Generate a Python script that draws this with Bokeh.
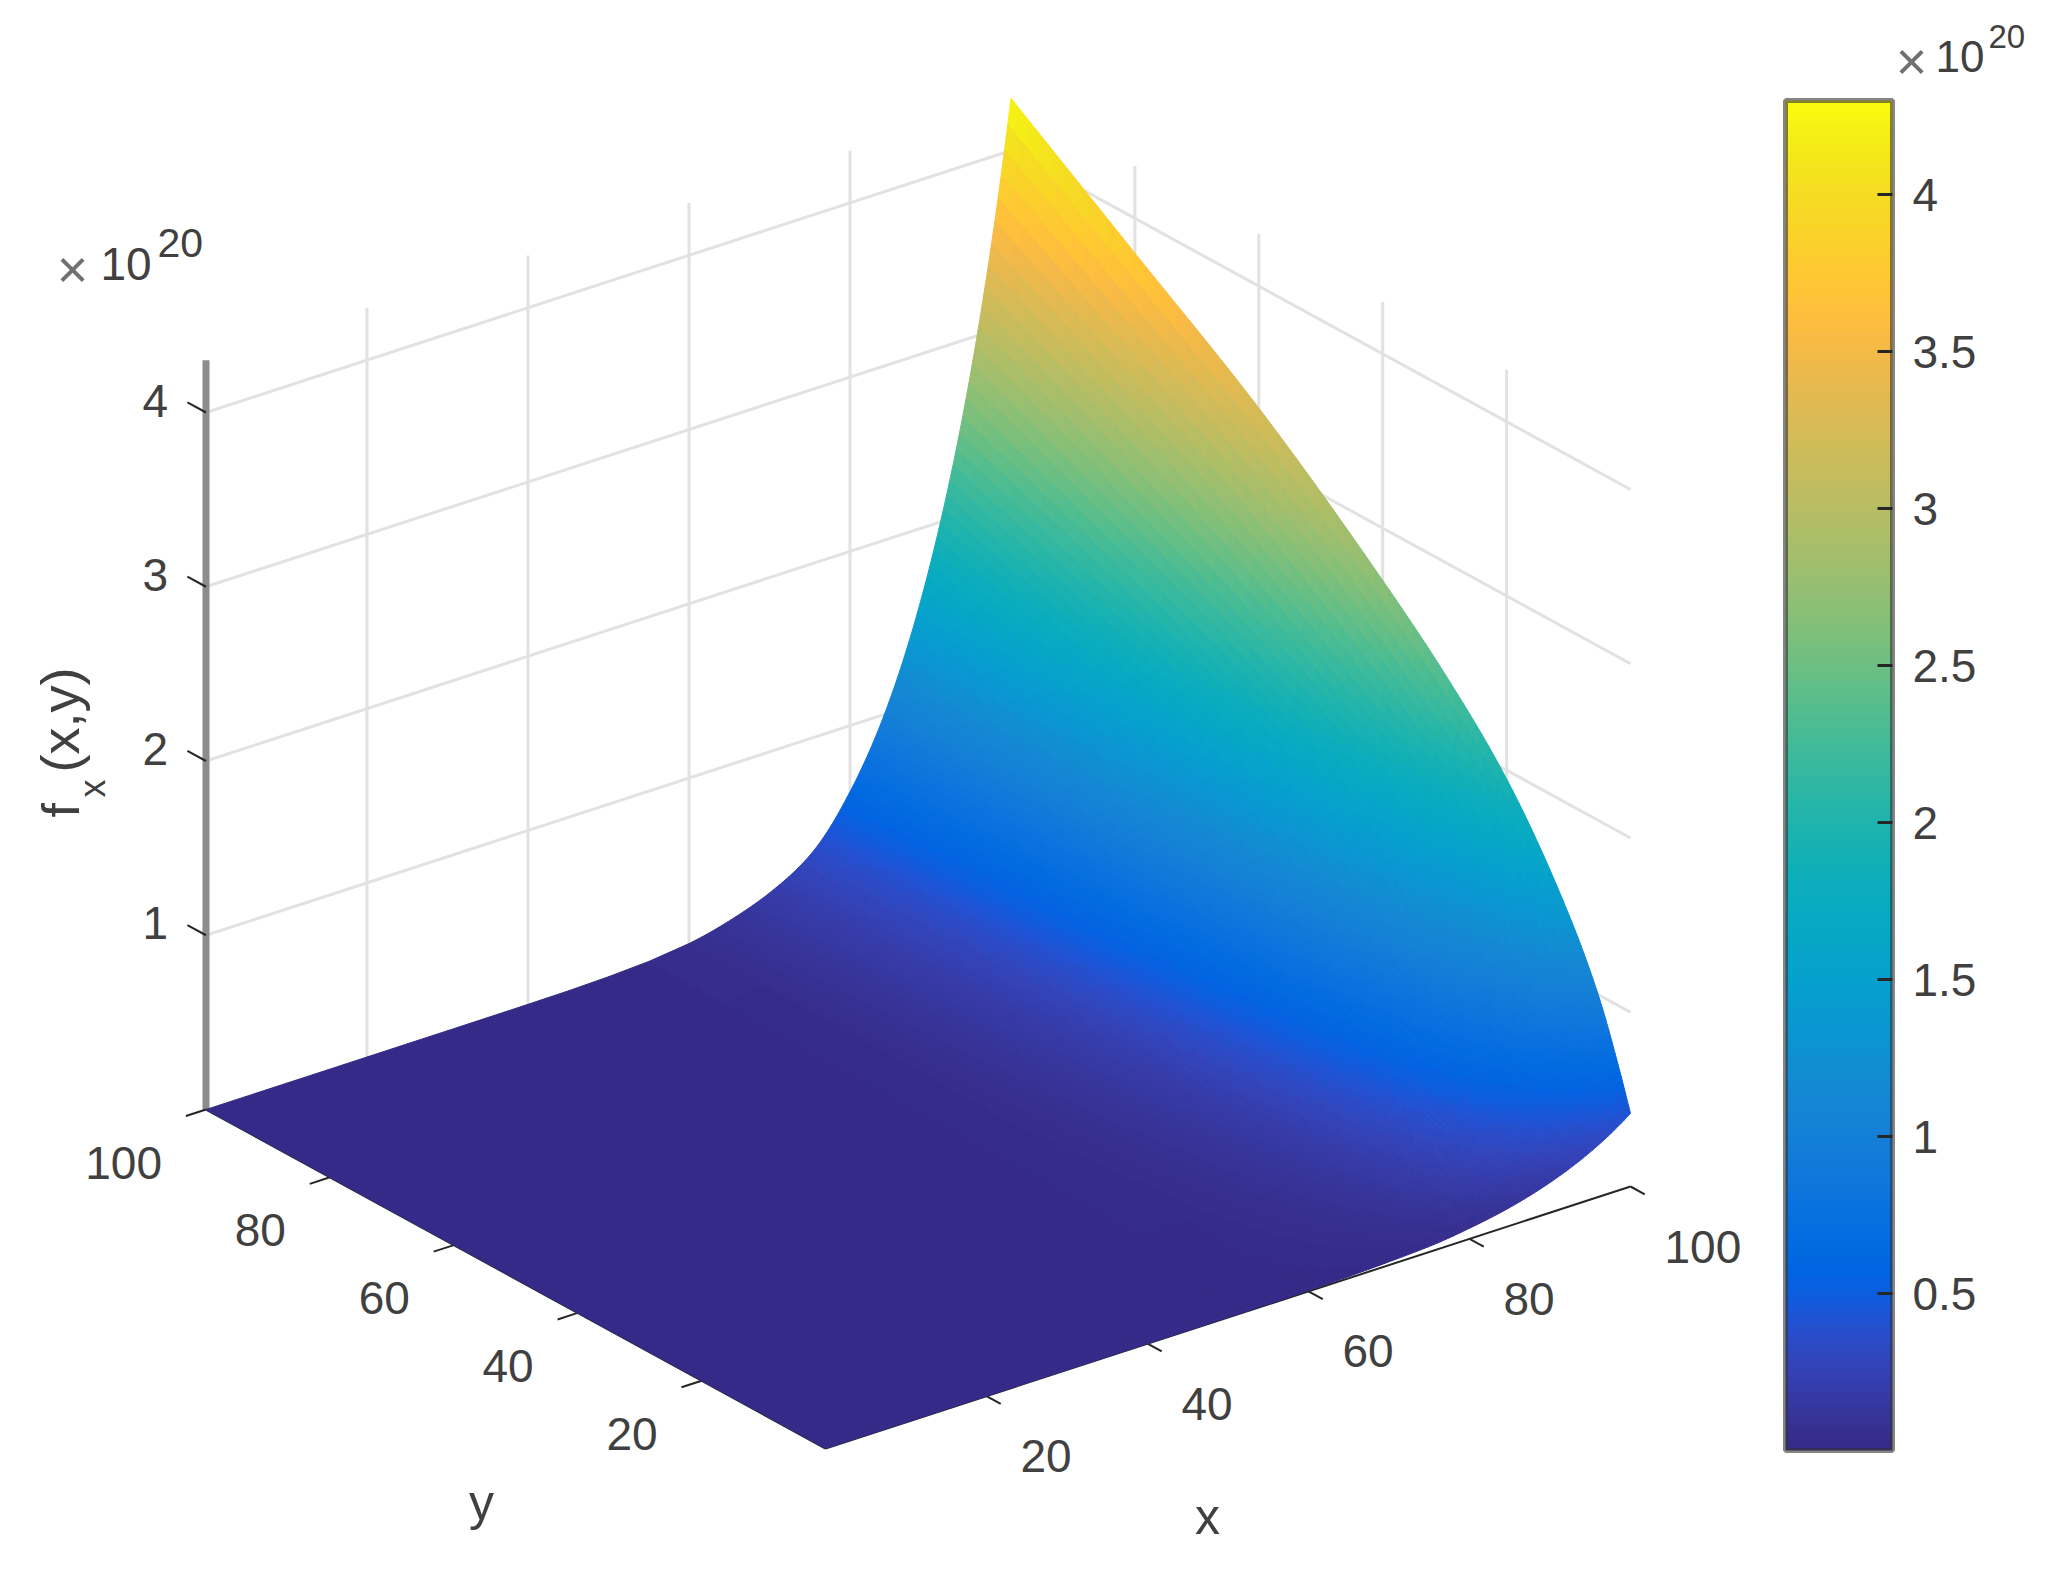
import numpy as np
from bokeh.embed import file_html
from bokeh.resources import INLINE
from bokeh.plotting import figure
from bokeh.models import Range1d, ColumnDataSource, LinearColorMapper, ColorBar, FixedTicker
from bokeh.core.properties import value

# ---- data (values in units of 1e20) ----
x_knots = [0, 40, 50, 60, 65, 70, 75, 80, 85, 90, 95, 100]
y_knots = [0, 2, 5, 10, 20, 30, 40, 60, 80, 100]
z_y0   = [0, 0.000, 0.001, 0.005, 0.010, 0.019, 0.032, 0.061, 0.105, 0.173, 0.273, 0.42]
z_y2   = [0, 0.000, 0.001, 0.007, 0.016, 0.029, 0.051, 0.095, 0.167, 0.275, 0.432, 0.66]
z_y5   = [0, 0.000, 0.002, 0.012, 0.024, 0.043, 0.075, 0.141, 0.247, 0.407, 0.639, 0.98]
z_y10  = [0, 0.001, 0.003, 0.016, 0.033, 0.061, 0.105, 0.198, 0.345, 0.568, 0.893, 1.37]
z_y20  = [0, 0.001, 0.005, 0.023, 0.048, 0.086, 0.149, 0.281, 0.489, 0.806, 1.27, 1.95]
z_y30  = [0, 0.001, 0.005, 0.027, 0.058, 0.104, 0.181, 0.340, 0.593, 0.977, 1.54, 2.36]
z_y40  = [0, 0.001, 0.006, 0.031, 0.066, 0.119, 0.207, 0.389, 0.678, 1.115, 1.76, 2.70]
z_y60  = [0, 0.002, 0.008, 0.038, 0.081, 0.146, 0.253, 0.476, 0.828, 1.365, 2.15, 3.30]
z_y80  = [0, 0.002, 0.009, 0.044, 0.093, 0.168, 0.292, 0.548, 0.955, 1.575, 2.48, 3.80]
z_y100 = [0, 0.002, 0.010, 0.050, 0.105, 0.190, 0.330, 0.620, 1.08, 1.78, 2.80, 4.30]
z_rows = [z_y0, z_y2, z_y5, z_y10, z_y20, z_y30, z_y40, z_y60, z_y80, z_y100]

x_ticks = [20, 40, 60, 80, 100]
y_ticks = [20, 40, 60, 80, 100]
z_ticks = [1, 2, 3, 4]
cbar_ticks = [0.5, 1, 1.5, 2, 2.5, 3, 3.5, 4]
z_top = 4.3

parula = [
 (0.2081,0.1663,0.5292),(0.2116,0.1898,0.5777),(0.2123,0.2138,0.6270),(0.2081,0.2386,0.6771),
 (0.1959,0.2645,0.7279),(0.1707,0.2919,0.7792),(0.1253,0.3242,0.8303),(0.0591,0.3598,0.8683),
 (0.0117,0.3875,0.8820),(0.0060,0.4086,0.8828),(0.0165,0.4266,0.8786),(0.0329,0.4430,0.8720),
 (0.0498,0.4586,0.8641),(0.0629,0.4737,0.8554),(0.0723,0.4887,0.8467),(0.0779,0.5040,0.8384),
 (0.0793,0.5200,0.8312),(0.0749,0.5375,0.8263),(0.0641,0.5570,0.8240),(0.0488,0.5772,0.8228),
 (0.0343,0.5966,0.8199),(0.0265,0.6137,0.8135),(0.0239,0.6287,0.8038),(0.0231,0.6418,0.7913),
 (0.0228,0.6535,0.7768),(0.0267,0.6642,0.7607),(0.0384,0.6743,0.7436),(0.0590,0.6838,0.7254),
 (0.0843,0.6928,0.7062),(0.1133,0.7015,0.6859),(0.1453,0.7098,0.6646),(0.1801,0.7177,0.6424),
 (0.2178,0.7250,0.6193),(0.2586,0.7317,0.5954),(0.3022,0.7376,0.5712),(0.3482,0.7424,0.5473),
 (0.3953,0.7459,0.5244),(0.4420,0.7481,0.5033),(0.4871,0.7491,0.4840),(0.5300,0.7491,0.4661),
 (0.5709,0.7485,0.4494),(0.6099,0.7473,0.4337),(0.6473,0.7456,0.4188),(0.6834,0.7435,0.4044),
 (0.7184,0.7411,0.3905),(0.7525,0.7384,0.3768),(0.7858,0.7356,0.3633),(0.8185,0.7327,0.3498),
 (0.8507,0.7299,0.3360),(0.8824,0.7274,0.3217),(0.9139,0.7258,0.3063),(0.9450,0.7261,0.2886),
 (0.9739,0.7314,0.2666),(0.9938,0.7455,0.2403),(0.9990,0.7653,0.2164),(0.9955,0.7861,0.1967),
 (0.9880,0.8066,0.1794),(0.9789,0.8271,0.1633),(0.9697,0.8481,0.1475),(0.9626,0.8705,0.1309),
 (0.9589,0.8949,0.1132),(0.9598,0.9218,0.0948),(0.9661,0.9514,0.0755),(0.9763,0.9831,0.0538)]
_rgb = np.array(parula)
_t = np.linspace(0, 63, 256)
palette = ["#%02x%02x%02x" % tuple(int(round(np.interp(t, np.arange(64), _rgb[:, k]) * 255)) for k in range(3))
           for t in _t]

# ---- the camera: orthographic projection to page pixels ----
ORIGIN = (825.0, 1448.0)
EX = (8.05, -2.62)
EY = (-6.195, -3.39)
EZ = -174.25


def project(x, y, z):
    x, y, z = np.asarray(x, float), np.asarray(y, float), np.asarray(z, float)
    return ORIGIN[0] + EX[0] * x + EY[0] * y, ORIGIN[1] + EX[1] * x + EY[1] * y + EZ * z


def pchip(xk, yk, xq):
    """Monotone cubic used only to shade the surface smoothly between read values."""
    xk, yk = np.asarray(xk, float), np.asarray(yk, float)
    h = np.diff(xk)
    d = np.diff(yk) / h
    m = np.zeros_like(yk)
    for i in range(1, len(xk) - 1):
        if d[i - 1] * d[i] > 0:
            w1, w2 = 2 * h[i] + h[i - 1], h[i] + 2 * h[i - 1]
            m[i] = (w1 + w2) / (w1 / d[i - 1] + w2 / d[i])
    m[0], m[-1] = d[0], d[-1]
    i = np.clip(np.searchsorted(xk, xq, side="right") - 1, 0, len(h) - 1)
    t = (xq - xk[i]) / h[i]
    return ((2*t**3 - 3*t**2 + 1) * yk[i] + (t**3 - 2*t**2 + t) * h[i] * m[i]
            + (-2*t**3 + 3*t**2) * yk[i + 1] + (t**3 - t**2) * h[i] * m[i + 1])


xq = np.concatenate([np.arange(0, 60, 5.0), np.arange(60, 100.01, 0.4)])
yq = np.concatenate([np.arange(0, 10, 0.5), np.arange(10, 100.01, 1.0)])
EPS = 1e-3
by_x = np.array([np.exp(pchip(x_knots, np.log(np.array(row) + EPS), xq)) - EPS for row in z_rows])
Z = np.array([pchip(y_knots, by_x[:, j], yq) for j in range(len(xq))]).T
XX, YY = np.meshgrid(xq, yq)
PX, PY = project(XX, YY, Z)

qx, qy, qz = [], [], []
for i in range(len(yq) - 2, -1, -1):
    for j in range(len(xq) - 2, -1, -1):
        qx.append([PX[i, j], PX[i, j + 1], PX[i + 1, j + 1], PX[i + 1, j]])
        qy.append([PY[i, j], PY[i, j + 1], PY[i + 1, j + 1], PY[i + 1, j]])
        qz.append(float(Z[i:i + 2, j:j + 2].mean()))

mapper = LinearColorMapper(palette=palette, low=0, high=z_top)

p = figure(width=2040, height=1558, x_range=Range1d(0, 2040), y_range=Range1d(1558, 0),
           x_axis_type=None, y_axis_type=None, toolbar_location=None, output_backend="svg",
           min_border=0, outline_line_color=None, background_fill_color="white")
p.grid.visible = False

GRID = dict(line_color="#e2e2e2", line_width=3)
TICK = dict(line_color="#262626", line_width=2)
FONT = value("Liberation Sans")
INK = "#404040"


def seg(a, b, **kw):
    xs, ys = project(*zip(a, b))
    p.line(list(xs), list(ys), **kw)


# back walls
for z in z_ticks:
    xs, ys = project([0, 100, 100], [100, 100, 0], [z, z, z])
    p.line(list(xs), list(ys), **GRID)
for t in [20, 40, 60, 80]:
    seg((t, 100, 0), (t, 100, z_top), **GRID)
    seg((100, t, 0), (100, t, z_top), **GRID)

# z axis
seg((0, 100, 0), (0, 100, z_top), line_color="#8c8c8c", line_width=7)
for z in z_ticks:
    seg((0, 100, z), (0, 103, z), **TICK)

# floor axes
seg((0, 0, 0), (100, 0, 0), **TICK)
seg((0, 0, 0), (0, 100, 0), **TICK)
for t in x_ticks:
    seg((t, 0, 0), (t, -2.3, 0), **TICK)
for t in y_ticks:
    seg((0, t, 0), (-2.5, t, 0), **TICK)

# surface
src = ColumnDataSource(dict(xs=qx, ys=qy, z=qz))
cspec = dict(field="z", transform=mapper)
p.patches("xs", "ys", source=src, fill_color=cspec, line_color=cspec, line_width=1)


def labels(xs, ys, texts, size, align="center", baseline="middle", angle=0.0, color=INK):
    s = ColumnDataSource(dict(x=list(xs), y=list(ys), t=list(texts)))
    p.text("x", "y", text="t", source=s, text_font=FONT, text_font_size=f"{size}px",
           text_align=align, text_baseline=baseline, angle=angle, text_color=color)


# tick labels
tx, ty = project(x_ticks, [0] * len(x_ticks), [0] * len(x_ticks))
labels(tx + 34, ty + 60, [str(v) for v in x_ticks], 46, align="left")
tx, ty = project([0] * len(y_ticks), y_ticks, [0] * len(y_ticks))
labels(tx - 44, ty + 53, [str(v) for v in y_ticks], 46, align="right")
tx, ty = project([0] * len(z_ticks), [100] * len(z_ticks), z_ticks)
labels(tx - 38, ty - 12, [str(v) for v in z_ticks], 46, align="right")

# axis titles
labels([1207], [1516], ["x"], 50)
labels([481], [1502], ["y"], 50)
labels([60], [817], ["f"], 52, align="left", angle=np.pi / 2)
labels([92], [797], ["x"], 36, align="left", angle=np.pi / 2)
labels([59], [772], ["(x,y)"], 54, align="left", angle=np.pi / 2)

# exponents
labels([72], [268], ["×"], 54, color="#707070")
labels([100], [263], ["10"], 46, align="left")
labels([157], [242], ["20"], 41, align="left")
labels([1911], [60], ["×"], 54, color="#707070")
labels([1935], [56], ["10"], 44, align="left")
labels([1988], [36], ["20"], 33, align="left")

bar = ColorBar(color_mapper=mapper, ticker=FixedTicker(ticks=cbar_ticks),
               major_label_overrides={v: f"{v:g}" for v in cbar_ticks},
               location=(1785, 108), width=107, height=1350, padding=0,
               bar_line_color="#333333", bar_line_alpha=0.6, bar_line_width=5,
               major_tick_in=15, major_tick_out=0, major_tick_line_color="#262626",
               major_tick_line_width=3, minor_tick_line_color=None,
               label_standoff=20, major_label_text_font="Liberation Sans",
               major_label_text_font_size="46px", major_label_text_color=INK,
               background_fill_alpha=0, border_line_color=None)
p.add_layout(bar)

open("out.html", "w").write(file_html(p, INLINE))
